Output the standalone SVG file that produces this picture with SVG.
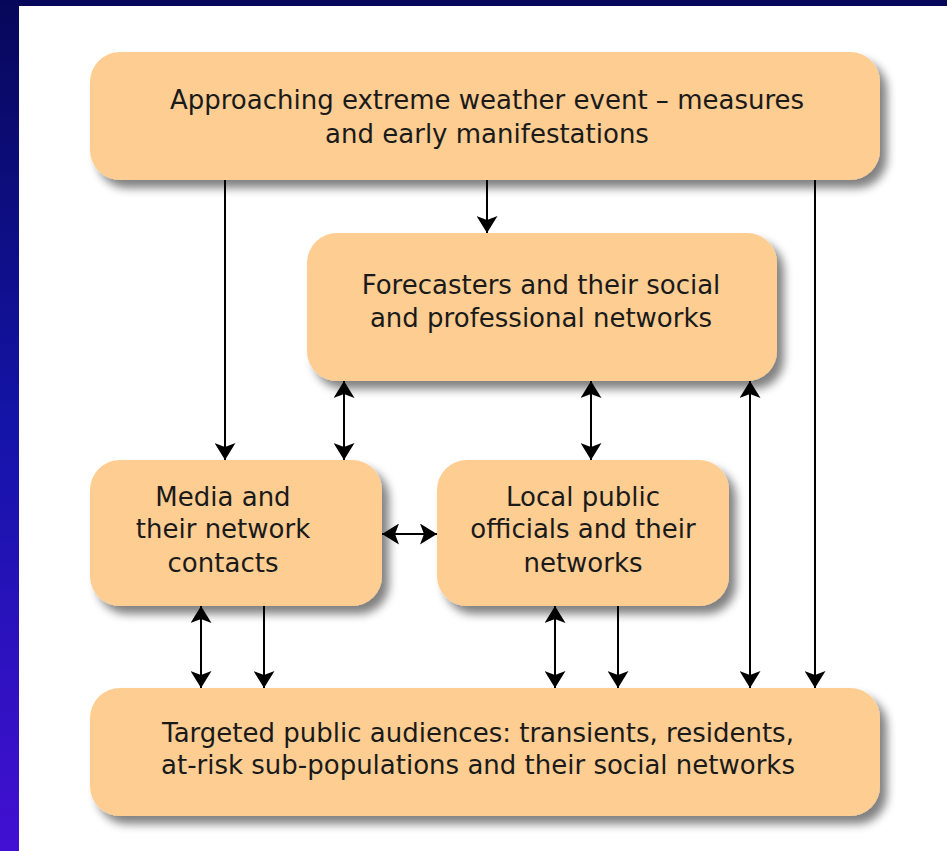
<svg xmlns="http://www.w3.org/2000/svg" width="947" height="851" viewBox="0 0 947 851">
  <defs>
    <linearGradient id="frame" x1="0" y1="0" x2="0" y2="1">
      <stop offset="0" stop-color="#07075a"/>
      <stop offset="0.5" stop-color="#1414a8"/>
      <stop offset="1" stop-color="#4210d2"/>
    </linearGradient>
    <filter id="drop" x="-10%" y="-20%" width="125%" height="150%">
      <feGaussianBlur in="SourceAlpha" stdDeviation="5"/>
      <feOffset dx="7" dy="8" result="b"/>
      <feComponentTransfer><feFuncA type="linear" slope="0.5"/></feComponentTransfer>
      <feMerge><feMergeNode/><feMergeNode in="SourceGraphic"/></feMerge>
    </filter>
    <marker id="head" viewBox="0 0 17 21" markerWidth="17" markerHeight="21" refX="17" refY="10.5" markerUnits="userSpaceOnUse" orient="auto-start-reverse">
      <path d="M0,0 L17,10.5 L0,21 L4,10.5 z" fill="#000"/>
    </marker>
    <style>
      .box { fill: #fdcd92; filter: url(#drop); }
      .lbl { font-family: "DejaVu Sans", "Liberation Sans", sans-serif; font-size: 26px; fill: #1a1a1a; text-anchor: middle; }
      .one { stroke: #000; stroke-width: 2; fill: none; marker-end: url(#head); }
      .two { stroke: #000; stroke-width: 2; fill: none; marker-start: url(#head); marker-end: url(#head); }
    </style>
  </defs>

  <!-- frame and page -->
  <rect x="0" y="0" width="947" height="851" fill="url(#frame)"/>
  <rect x="19" y="6" width="928" height="845" fill="#ffffff"/>

  <g id="event">
    <rect class="box" x="90" y="52" width="790" height="128" rx="30"/>
    <text class="lbl" x="487" y="109">Approaching extreme weather event – measures</text>
    <text class="lbl" x="487" y="143">and early manifestations</text>
  </g>

  <g id="forecasters">
    <rect class="box" x="307" y="233" width="470" height="148" rx="30"/>
    <text class="lbl" x="541" y="294">Forecasters and their social</text>
    <text class="lbl" x="541" y="327">and professional networks</text>
  </g>

  <g id="media">
    <rect class="box" x="90" y="460" width="292" height="146" rx="30"/>
    <text class="lbl" x="223" y="506">Media and</text>
    <text class="lbl" x="223" y="538">their network</text>
    <text class="lbl" x="223" y="572">contacts</text>
  </g>

  <g id="officials">
    <rect class="box" x="437" y="460" width="292" height="146" rx="30"/>
    <text class="lbl" x="583" y="506">Local public</text>
    <text class="lbl" x="583" y="538">officials and their</text>
    <text class="lbl" x="583" y="572">networks</text>
  </g>

  <g id="audiences">
    <rect class="box" x="90" y="688" width="790" height="128" rx="30"/>
    <text class="lbl" x="478" y="742">Targeted public audiences: transients, residents,</text>
    <text class="lbl" x="478" y="774">at-risk sub-populations and their social networks</text>
  </g>

  <g id="connectors">
    <line class="one" x1="487" y1="180" x2="487" y2="233"/>
    <line class="one" x1="225" y1="180" x2="225" y2="460"/>
    <line class="one" x1="815" y1="180" x2="815" y2="688"/>
    <line class="two" x1="344" y1="381" x2="344" y2="460"/>
    <line class="two" x1="591" y1="381" x2="591" y2="460"/>
    <line class="two" x1="750" y1="381" x2="750" y2="688"/>
    <line class="two" x1="382" y1="534" x2="437" y2="534"/>
    <line class="two" x1="201" y1="606" x2="201" y2="688"/>
    <line class="one" x1="264" y1="606" x2="264" y2="688"/>
    <line class="two" x1="555" y1="606" x2="555" y2="688"/>
    <line class="one" x1="618" y1="606" x2="618" y2="688"/>
  </g>
</svg>
